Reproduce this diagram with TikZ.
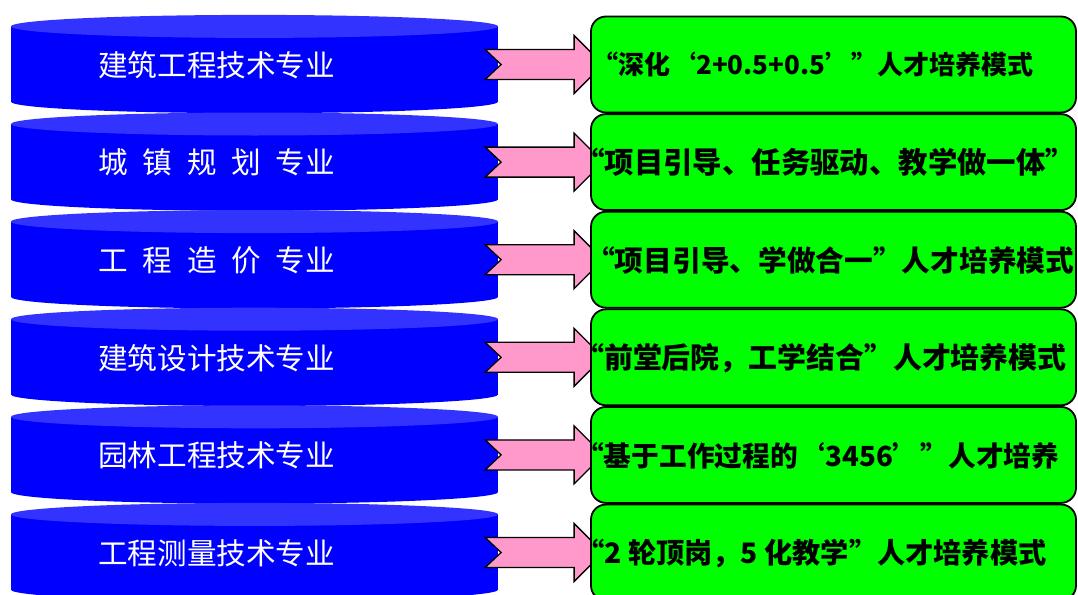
\documentclass[tikz,border=0pt]{standalone}
\usepackage{fontspec}
\newfontfamily\cjk{Noto Sans CJK SC}
\usetikzlibrary{calc,backgrounds}
\definecolor{cylside}{RGB}{0,0,255}
\definecolor{cyltop}{RGB}{51,51,255}
\definecolor{arrpink}{RGB}{255,153,204}
\definecolor{boxgreen}{RGB}{0,255,0}
\tikzset{
  gbox/.style={draw=black, line width=1.8pt, fill=boxgreen, rounded corners=15pt,
    minimum width=485pt, minimum height=96pt, inner sep=0pt},
  ltext/.style={anchor=west, inner sep=0pt, text=white, font=\cjk\fontsize{29.6}{32}\selectfont},
  rtext/.style={anchor=west, inner sep=0pt, text=black},
  parrow/.style={draw=black, line width=1.3pt, fill=arrpink, line join=miter}
}
\newcommand{\gap}{\hspace{14.8pt}}
\newcommand{\rf}[1]{\cjk\bfseries\fontsize{#1}{32}\selectfont}
\begin{document}
\begin{tikzpicture}[x=1pt,y=-1pt]
\useasboundingbox (0,0) rectangle (1078,594);
% green boxes
\foreach \i in {0,...,5}{
  \node[gbox] (b\i) at (833.5,{64.5+97.6*\i}) {};
}
\begin{pgfonlayer}{background}
\foreach \i in {0,...,5}{
  \pgfmathsetmacro\yt{26.4+97.6*\i}
  \pgfmathsetmacro\yb{\yt+75.3}
  \fill[cylside] (11,\yt) rectangle (498,\yb);
  \fill[cylside] (254.5,\yb) ellipse [x radius=243.5, y radius=11.5];
  \fill[cyltop] (254.5,\yt) ellipse [x radius=243.5, y radius=11.5];
}
\foreach \i in {0,...,5}{
  \draw[parrow] ($(b\i.west)+(-105,-15)$) -- ($(b\i.west)+(-16,-15)$)
    -- ($(b\i.west)+(-16,-29)$) -- ($(b\i.west)+(13,0)$)
    -- ($(b\i.west)+(-16,29)$) -- ($(b\i.west)+(-16,15)$)
    -- ($(b\i.west)+(-105,15)$) -- ($(b\i.west)+(-89,0)$) -- cycle;
}
\end{pgfonlayer}
% left texts
\node[ltext] (l0) at (98,65) {建筑工程技术专业};
\node[ltext] (l1) at (98,162.6) {城\gap 镇\gap 规\gap 划\gap 专业};
\node[ltext] (l2) at (98,260.2) {工\gap 程\gap 造\gap 价\gap 专业};
\node[ltext] (l3) at (98,357.8) {建筑设计技术专业};
\node[ltext] (l4) at (98,455.4) {园林工程技术专业};
\node[ltext] (l5) at (98,553) {工程测量技术专业};
% right texts
\node[rtext, font=\rf{26}] (r0) at (592,65) {“深化‘2+0.5+0.5’”人才培养模式};
\node[rtext, font=\rf{29.4}] (r1) at (575,162.6) {“项目引导、任务驱动、教学做一体”};
\node[rtext, font=\rf{28.7}] (r2) at (586,260.2) {“项目引导、学做合一”人才培养模式};
\node[rtext, font=\rf{28.9}] (r3) at (575,357.8) {“前堂后院，工学结合”人才培养模式};
\node[rtext, font=\rf{27.7}] (r4) at (576,455.4) {“基于工作过程的‘3456’”人才培养};
\node[rtext, font=\rf{28.2}] (r5) at (576,553) {“2 轮顶岗，5 化教学”人才培养模式};
\end{tikzpicture}
\end{document}
